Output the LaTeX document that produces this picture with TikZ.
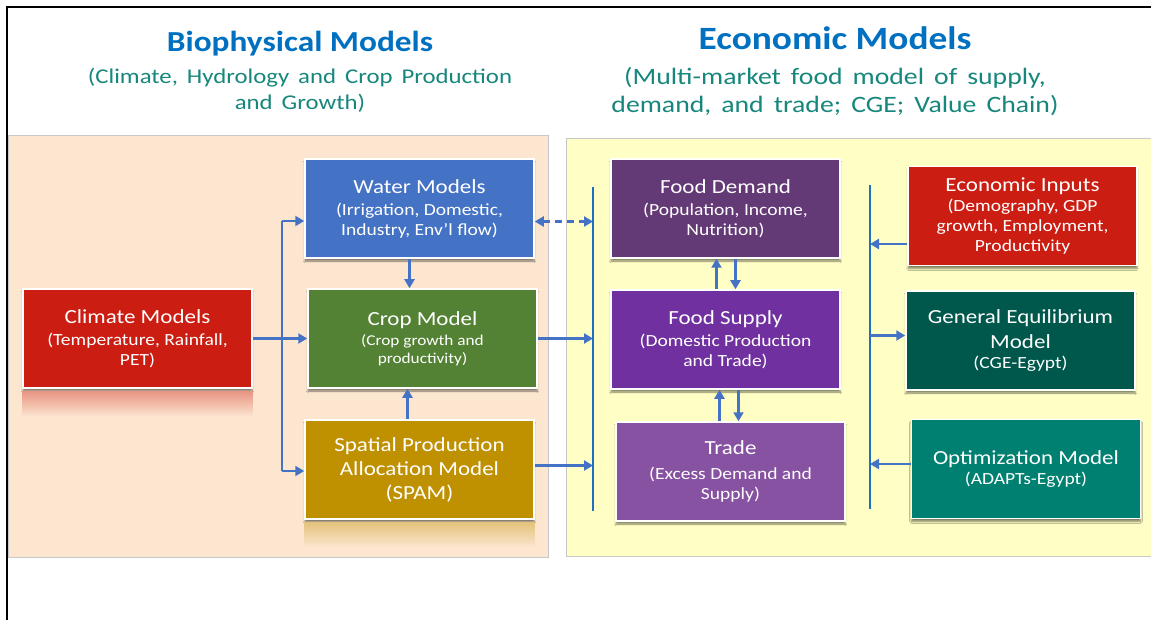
\documentclass[tikz,border=0pt]{standalone}
\usepackage{fontspec}
\setmainfont{Carlito}[FakeStretch=1.15]
\newfontfamily\subfont{Carlito}[FakeStretch=1.18, WordSpace=1.6]
\usetikzlibrary{arrows.meta,positioning,shadows.blur}

\definecolor{titleblue}{RGB}{0,112,192}
\definecolor{subteal}{RGB}{23,135,125}
\definecolor{peach}{RGB}{252,230,208}
\definecolor{paleyellow}{RGB}{255,255,197}
\definecolor{waterblue}{RGB}{68,114,196}
\definecolor{cropgreen}{RGB}{84,130,53}
\definecolor{spamgold}{RGB}{191,144,0}
\definecolor{climred}{RGB}{204,29,18}
\definecolor{demandpurple}{RGB}{100,58,118}
\definecolor{supplypurple}{RGB}{112,48,160}
\definecolor{tradepurple}{RGB}{135,82,161}
\definecolor{cgegreen}{RGB}{0,88,76}
\definecolor{optteal}{RGB}{0,128,112}
\definecolor{linkblue}{RGB}{68,114,196}
\definecolor{busblue}{RGB}{31,112,190}

\newcommand{\bigtext}[1]{{\fontsize{20}{24}\selectfont #1}}

\begin{document}
\begin{tikzpicture}[x=1pt, y=-1pt, >={Triangle[length=9pt,width=10pt]},
  modelbox/.style={rectangle, draw=white, line width=1.5pt, text=white, align=center,
    minimum width=229pt, minimum height=99pt, inner sep=2pt, font=\fontsize{17}{20}\selectfont,
    blur shadow={shadow xshift=0pt, shadow yshift=-3pt, shadow blur steps=6, shadow opacity=50}},
  link/.style={linkblue, line width=2.2pt},
  bus/.style={busblue, line width=2.5pt}]
\useasboundingbox (0,0) rectangle (1151,620);
\fill[white] (0,0) rectangle (1151,620);
\draw[line width=2.5pt] (7,620) -- (7,7) -- (1151,7);

% two panels
\filldraw[fill=peach, draw=black!22, line width=0.8pt] (8,135) rectangle (548,557);
\filldraw[fill=paleyellow, draw=black!22, line width=0.8pt] (566,138) rectangle (1155,556);

% headings (base = last line)
\node (bioT) [anchor=base, text=titleblue, font=\bfseries\fontsize{29}{34}\selectfont] at (300,52) {Biophysical Models};
\node (bioS) [anchor=base, text=subteal, align=center, font=\subfont\fontsize{21}{26}\selectfont] at (300,110) {(Climate, Hydrology and Crop Production\\and Growth)};
\node (ecoT) [anchor=base, text=titleblue, font=\bfseries\fontsize{32.5}{36}\selectfont] at (835,50) {Economic Models};
\node (ecoS) [anchor=base, text=subteal, align=center, font=\subfont\fontsize{23.5}{28}\selectfont] at (835,113) {(Multi-market food model of supply,\\demand, and trade; CGE; Value Chain)};

% biophysical side
\node (clim) [modelbox, fill=climred] at (137.5,338.5) {\bigtext{Climate Models}\\[2pt](Temperature, Rainfall,\\PET)};
\node (water) [modelbox, fill=waterblue] at (419.5,208.5) {\bigtext{Water Models}\\[2pt](Irrigation, Domestic,\\Industry, Env’l flow)};
\node (crop) [modelbox, fill=cropgreen, font=\fontsize{15}{18}\selectfont] at (422.5,338.5) {\bigtext{Crop Model}\\[2pt](Crop growth and\\productivity)};
\node (spam) [modelbox, fill=spamgold, font=\fontsize{20}{24}\selectfont] at (419.5,469.5) {Spatial Production\\Allocation Model\\(SPAM)};

% economic side
\node (fd) [modelbox, fill=demandpurple] at (725.5,208.5) {\bigtext{Food Demand}\\[2pt](Population, Income,\\Nutrition)};
\node (fs) [modelbox, fill=supplypurple] at (725.5,339.5) {\bigtext{Food Supply}\\[2pt](Domestic Production\\and Trade)};
\node (trade) [modelbox, fill=tradepurple] at (730.5,471.5) {\bigtext{Trade}\\[5pt](Excess Demand and\\Supply)};
\node (ei) [modelbox, fill=climred] at (1022.5,216) {\bigtext{Economic Inputs}\\(Demography, GDP\\growth, Employment,\\Productivity};
\node (ge) [modelbox, fill=cgegreen] at (1020.5,340.5) {\bigtext{General Equilibrium}\\[5pt]\bigtext{Model}\\(CGE-Egypt)};
\node (opt) [modelbox, fill=optteal] at (1026,469) {\bigtext{Optimization Model}\\(ADAPTs-Egypt)};

% faded reflections
\shade[top color=climred!40!peach, bottom color=peach] ([yshift=-3pt]clim.south west) rectangle ([yshift=-28pt]clim.south east);
\shade[top color=spamgold!40!peach, bottom color=peach] ([yshift=-3pt]spam.south west) rectangle ([yshift=-28pt]spam.south east);

% climate feeds the three biophysical models
\coordinate (bt) at (282,221);
\coordinate (bb) at (282,471);
\draw[link] (bt) -- (bb);
\draw[link,->] (clim.east) -- (crop.west);
\draw[link,->] (bt) -- (bt -| water.west);
\draw[link,->] (bb) -- (bb -| spam.west);
\draw[link,->] ([xshift=-10pt]water.south) -- ([xshift=-10pt]water.south |- crop.north);
\draw[link,->] ([xshift=-12pt]spam.north) -- ([xshift=-12pt]spam.north |- crop.south);

% left bus into the food model
\coordinate (b1t) at (593,187);
\coordinate (b1b) at (593,511);
\draw[bus] (b1t) -- (b1b);
\draw[link,->] (crop.east) -- (crop.east -| b1t);
\draw[link,->] ([yshift=4pt]spam.east) -- ([yshift=4pt]spam.east -| b1t);
\draw[link,<->,dash pattern=on 7pt off 5pt] ([yshift=-13pt]water.east) -- ([yshift=-13pt]water.east -| b1t);

% demand, supply and trade
\draw[link,->] ([xshift=-9pt]fs.north) -- ([xshift=-9pt]fs.north |- fd.south);
\draw[link,->] ([xshift=10pt]fd.south) -- ([xshift=10pt]fd.south |- fs.north);
\draw[link,->] ([xshift=-6pt]fs.south |- trade.north) -- ([xshift=-6pt]fs.south);
\draw[link,->] ([xshift=13pt]fs.south) -- ([xshift=13pt]fs.south |- trade.north);

% right bus
\coordinate (b2t) at (870,185);
\coordinate (b2b) at (870,509);
\draw[bus] (b2t) -- (b2b);
\draw[link,->] ([yshift=-28pt]ei.west) -- ([yshift=-28pt]ei.west -| b2t);
\draw[link,->] ([yshift=5pt]ge.west -| b2t) -- ([yshift=5pt]ge.west);
\draw[link,->] ([yshift=5pt]opt.west) -- ([yshift=5pt]opt.west -| b2t);
\end{tikzpicture}
\end{document}
